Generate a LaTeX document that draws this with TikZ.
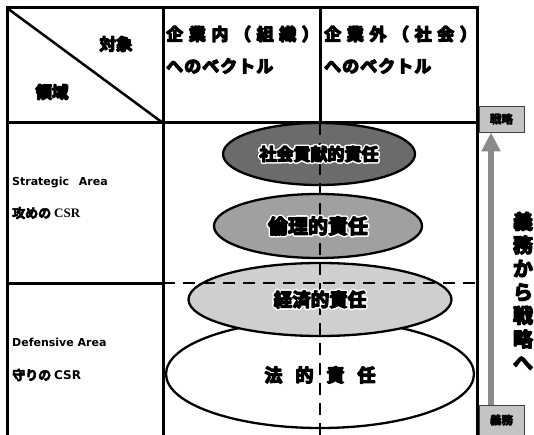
\documentclass[tikz,border=0pt]{standalone}
\usepackage{fontspec}
\setmainfont{DejaVu Sans}
\newfontfamily\jp{Noto Sans CJK JP}[BoldFont={Noto Sans CJK JP Bold}]
\newfontfamily\serifb{Liberation Serif}
\usetikzlibrary{calc,arrows.meta,shapes.geometric}
\definecolor{dk}{HTML}{6B6B6B}
\definecolor{md}{HTML}{A0A0A0}
\definecolor{lt}{HTML}{CFCFCF}
\definecolor{boxg}{HTML}{C4C4C4}
\definecolor{boxl}{HTML}{404040}
\definecolor{arrg}{HTML}{8A8A8A}
% stroked text: #1 stroke colour (r g b), #2 stroke width, #3 text
\newcommand\strk[3]{\special{pdf:literal direct #1 RG #2 w 1 j 2 Tr}#3\special{pdf:literal direct 0 Tr 0 j}}
\newcommand\hv[1]{\strk{0 0 0}{1.3}{#1}}
\newcommand\hvs[1]{\strk{0 0 0}{0.6}{#1}}
% black heavy text with a white halo beneath
\newcommand\halotext[4]{%
  \node[font=#3,text=white,inner sep=0pt] (#2h) at (#1) {\strk{1 1 1}{4.4}{#4}};
  \node[font=#3,inner sep=0pt] (#2) at (#1) {\hv{#4}};}
\begin{document}
\begin{tikzpicture}[x=1pt,y=-1pt,
  tbl/.style={line width=3pt,line join=miter},
  diag/.style={line width=2.5pt},
  ell/.style={ellipse,draw,line width=2.3pt,inner sep=0pt},
  dsh/.style={line width=2.4pt,dash pattern=on 12pt off 8pt},
  gbox/.style={draw=boxl,line width=0.8pt,fill=boxg,minimum width=45pt,inner sep=0pt,
    font=\jp\bfseries\fontsize{11.5}{13}\selectfont},
  hdr/.style={anchor=west,inner sep=0pt,font=\jp\bfseries\fontsize{17}{19}\selectfont},
  lft/.style={anchor=west,inner sep=0pt},
  arr/.style={line width=6pt,draw=arrg,-{Triangle[width=18pt,length=19pt]}}]
\useasboundingbox (0,0) rectangle (534,435);
\clip (0,0) rectangle (534,435);
% table coordinates
\coordinate (tl) at (7,8);
\coordinate (tr) at (477,8);
\coordinate (bl) at (7,445);
\coordinate (br) at (477,445);
\coordinate (hl) at (7,123);
\coordinate (hr) at (477,123);
\coordinate (c1t) at (163,8);
\coordinate (c1h) at (163,123);
\coordinate (c1m) at (163,283);
\coordinate (c1b) at (163,445);
\coordinate (c2t) at (320,8);
\coordinate (c2h) at (320,123);
\coordinate (c2b) at (320,445);
\coordinate (ml) at (7,283);
\coordinate (mr) at (477,283);
% ellipses
\node[ell,fill=white,minimum width=308pt,minimum height=108pt] (eHo) at (320,374) {};
\node[ell,fill=lt,minimum width=263pt,minimum height=73pt] (eKe) at (320,299.5) {};
\node[ell,fill=md,minimum width=208pt,minimum height=64pt] (eRi) at (318,226) {};
\node[ell,fill=dk,minimum width=192pt,minimum height=62pt] (eSh) at (319,154) {};
% table
\draw[tbl] (bl) -- (tl) -- (tr) -- (br);
\draw[tbl] (hl) -- (hr);
\draw[tbl] (c1t) -- (c1b);
\draw[tbl] (c2t) -- (c2h);
\draw[tbl] (ml) -- (c1m);
\draw[diag] (tl) -- (c1h);
% dashed lines
\draw[dsh] (c1m) -- (mr);
\draw[dsh] (c2h) -- (c2b);
% header texts
\node[inner sep=0pt,font=\jp\bfseries\fontsize{16.5}{18}\selectfont] (taisho) at (116,44) {\hv{対象}};
\node[inner sep=0pt,font=\jp\bfseries\fontsize{16.5}{18}\selectfont] (ryoiki) at (52,92) {\hv{領域}};
\node[hdr] (h2a) at (166,34) {\addfontfeature{LetterSpace=33}\hv{企業内（組織）}};
\node[hdr] (h2b) at (166,66) {\addfontfeature{LetterSpace=6}\hv{へのベクトル}};
\node[hdr] (h3a) at (324,34) {\addfontfeature{LetterSpace=33}\hv{企業外（社会）}};
\node[hdr] (h3b) at (324,66) {\addfontfeature{LetterSpace=6}\hv{へのベクトル}};
% left column texts
\node[lft,font=\bfseries\fontsize{11}{13}\selectfont] (sa) at (12,183) {Strategic\hspace{6pt} Area};
\node[lft] (sc) at (12,213) {\jp\bfseries\fontsize{13}{15}\selectfont \hvs{攻めの} {\serifb\bfseries CSR}};
\node[lft,font=\bfseries\fontsize{11}{13}\selectfont] (da) at (12,342) {Defensive Area};
\node[lft] (dc) at (12,375) {\jp\bfseries\fontsize{13}{15}\selectfont \hvs{守りの} {\normalfont\bfseries\fontsize{12}{14}\selectfont CSR}};
% ellipse texts
\halotext{eSh.center}{tSh}{\jp\bfseries\fontsize{17}{19}\selectfont}{社会貢献的責任}
\halotext{eRi.center}{tRi}{\jp\bfseries\fontsize{20}{22}\selectfont}{倫理的責任}
\halotext{eKe.center}{tKe}{\jp\bfseries\fontsize{18.5}{20}\selectfont}{経済的責任}
\node[inner sep=0pt,font=\jp\bfseries\fontsize{18}{20}\selectfont] (tHo) at (320,375) {\hv{法\hspace{13pt}的\hspace{13pt}責\hspace{13pt}任}};
% right side
\node[gbox,minimum height=26pt] (senr) at (501.5,119) {\hvs{戦略}};
\node[gbox,minimum height=30pt] (gimu) at (501.5,420) {\hvs{義務}};
\coordinate (ax) at (491,0);
\draw[arr] (gimu.north -| ax) -- (senr.south -| ax);
\node[inner sep=0pt,align=center,font=\jp\bfseries\fontsize{20}{23.5}\selectfont] (vt) at (523,291) {\hv{義}\\\hv{務}\\\hv{か}\\\hv{ら}\\\hv{戦}\\\hv{略}\\\hv{へ}};
\end{tikzpicture}
\end{document}
